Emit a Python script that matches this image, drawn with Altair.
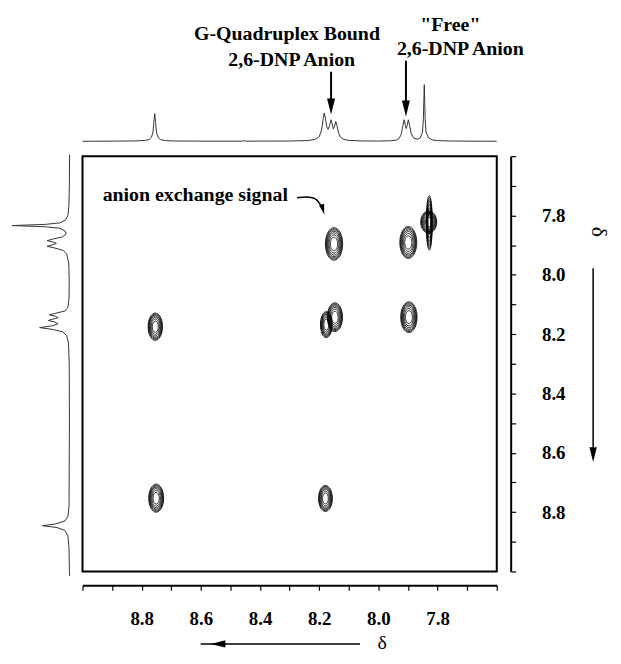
import altair as alt
import pandas as pd

# ---------------- data ----------------
# top 1D projection: chemical shift (ppm) and relative intensity
top_ppm = [9.000, 8.900, 8.820, 8.790, 8.775, 8.767, 8.762, 8.759, 8.756, 8.753, 8.750, 8.745,
           8.737, 8.720, 8.690, 8.600, 8.460, 8.455, 8.450, 8.300, 8.240, 8.215, 8.200, 8.192,
           8.186, 8.183, 8.179, 8.174, 8.170, 8.165, 8.160, 8.156, 8.152, 8.148, 8.144, 8.140,
           8.135, 8.128, 8.118, 8.100, 8.060, 8.000, 7.960, 7.940, 7.930, 7.923, 7.917, 7.913,
           7.909, 7.906, 7.902, 7.899, 7.895, 7.889, 7.880, 7.868, 7.858, 7.851, 7.848, 7.845,
           7.842, 7.839, 7.831, 7.818, 7.800, 7.760, 7.700, 7.600]
top_int = [0.000, 0.002, 0.006, 0.014, 0.030, 0.070, 0.160, 0.330, 0.490, 0.330, 0.160, 0.070,
           0.030, 0.012, 0.005, 0.002, 0.002, 0.012, 0.002, 0.004, 0.012, 0.030, 0.080, 0.200,
           0.420, 0.500, 0.400, 0.250, 0.210, 0.280, 0.380, 0.300, 0.215, 0.270, 0.350, 0.280,
           0.150, 0.070, 0.035, 0.016, 0.006, 0.004, 0.008, 0.020, 0.050, 0.120, 0.280, 0.380,
           0.280, 0.225, 0.290, 0.380, 0.290, 0.130, 0.055, 0.035, 0.060, 0.160, 0.400, 1.000,
           0.400, 0.160, 0.060, 0.025, 0.012, 0.005, 0.002, 0.000]

# left 1D projection (as drawn against the right-hand shift axis)
left_ppm = [7.595, 7.700, 7.770, 7.800, 7.815, 7.825, 7.830, 7.834, 7.838, 7.843, 7.852, 7.862,
            7.872, 7.880, 7.885, 7.890, 7.894, 7.899, 7.904, 7.909, 7.918, 7.930, 7.960, 8.020,
            8.080, 8.110, 8.122, 8.130, 8.135, 8.140, 8.145, 8.150, 8.154, 8.159, 8.165, 8.172,
            8.178, 8.184, 8.192, 8.205, 8.230, 8.300, 8.500, 8.780, 8.815, 8.830, 8.840, 8.846,
            8.852, 8.862, 8.880, 8.920, 9.000, 9.015]
left_int = [0.000, 0.004, 0.012, 0.030, 0.070, 0.170, 0.420, 1.000, 0.420, 0.170, 0.080, 0.060,
            0.120, 0.300, 0.390, 0.280, 0.230, 0.300, 0.390, 0.270, 0.110, 0.050, 0.015, 0.006,
            0.010, 0.030, 0.080, 0.250, 0.350, 0.240, 0.200, 0.300, 0.370, 0.260, 0.200, 0.300,
            0.520, 0.300, 0.120, 0.050, 0.020, 0.006, 0.003, 0.010, 0.030, 0.080, 0.250, 0.470,
            0.220, 0.080, 0.030, 0.010, 0.003, 0.000]

# 2D cross peaks: centre (F2, F1 ppm), vertical extent (ppm), outline kind
spot_x = [8.150, 7.899, 8.147, 8.176, 7.897, 8.754, 8.751, 8.179, 7.830, 7.828]
spot_y = [7.896, 7.891, 8.143, 8.168, 8.143, 8.175, 8.753, 8.754, 7.822, 7.825]
spot_h = [0.110, 0.108, 0.097, 0.088, 0.104, 0.092, 0.095, 0.088, 0.075, 0.184]
spot_kind = ["round", "round", "round", "lobe", "round", "round", "round", "round", "core", "tail"]
contour_levels = [1.0, 0.93, 0.86, 0.78, 0.68, 0.56, 0.42]

# axis ticks
tick_values = [9.0, 8.9, 8.8, 8.7, 8.6, 8.5, 8.4, 8.3, 8.2, 8.1, 8.0, 7.9, 7.8, 7.7, 7.6]
label_values = ["8.8", "8.6", "8.4", "8.2", "8.0", "7.8"]

# annotations above the top projection
annot_text = ["G-Quadruplex Bound", "2,6-DNP Anion", '"Free"', "2,6-DNP Anion"]
annot_ppm = [8.309, 8.293, 7.757, 7.723]
annot_level = [1.789, 1.333, 1.947, 1.526]
arrow_ppm = [8.160, 7.907]
arrow_from = [1.228, 1.421]
arrow_to = [0.474, 0.439]

# "anion exchange signal" label and its curved pointer
exch_text = "anion exchange signal"
exch_ppm, exch_shift = 8.932, 7.750
exch_line_x = [8.275, 8.242, 8.222, 8.208, 8.198, 8.190]
exch_line_y = [7.740, 7.736, 7.740, 7.746, 7.760, 7.775]
exch_tip = (8.183, 7.797)

# direction-of-delta arrows
dir_x_from, dir_x_to, delta_x = 8.062, 8.567, 7.987
dir_y_from, dir_y_to, delta_y = 7.978, 8.631, 7.855

# ---------------- layout ----------------
W, H = 417, 418
PPM_MIN, PPM_MAX = 7.6, 9.0
PX = H / (PPM_MAX - PPM_MIN)
TOP_GAP, TOP_UNIT = 15, 57
LEFT_GAP, LEFT_UNIT = 13, 58
SERIF = "Liberation Serif"
BOTTOM_ARROW_Y = 491
RIGHT_DELTA_X = 520

top_scale = alt.Scale(domain=[-(H + TOP_GAP) / TOP_UNIT, -TOP_GAP / TOP_UNIT], nice=False, zero=False)
left_scale = alt.Scale(domain=[-(W + LEFT_GAP) / LEFT_UNIT, -LEFT_GAP / LEFT_UNIT], reverse=True,
                       nice=False, zero=False)


def ppm_scale():
    return alt.Scale(domain=[PPM_MIN, PPM_MAX], reverse=True, nice=False, zero=False)


def xppm(field, axis=None):
    return alt.X(field, type="quantitative", scale=ppm_scale(), axis=axis)


def yppm(field, axis=None):
    return alt.Y(field, type="quantitative", scale=ppm_scale(), axis=axis)


label_expr = ("indexof([" + ",".join("'%s'" % v for v in label_values) +
              "], format(datum.value, '.1f')) >= 0 ? format(datum.value, '.1f') : ''")

axis_common = dict(values=tick_values, labelExpr=label_expr, title=None, grid=False,
                   domainColor="black", domainWidth=2, tickColor="black", tickWidth=1.2,
                   tickSize=5, labelFont=SERIF, labelFontWeight="bold", labelFontSize=19,
                   labelColor="black", labelFlush=False, labelOverlap=False)
x_axis = alt.Axis(orient="bottom", offset=14, labelPadding=19, **axis_common)
y_axis = alt.Axis(orient="right", offset=14, labelPadding=26, labelAlign="left", **axis_common)


def ellipse(a):
    k = 0.5523
    ak = a * k
    return ("M0,-1C{ak:.3f},-1 {a},-{k} {a},0C{a},{k} {ak:.3f},1 0,1"
            "C-{ak:.3f},1 -{a},{k} -{a},0C-{a},-{k} -{ak:.3f},-1 0,-1Z").format(a=a, k=k, ak=ak)


kinds = ["round", "lobe", "core", "tail"]
kind_paths = [ellipse(0.53), ellipse(0.45), ellipse(0.72), ellipse(0.11)]
HEAD = "M-0.5,-2L0.5,-2L0,0Z"

# ---------------- tables ----------------
rows = []
for sx, sy, sh, sk in zip(spot_x, spot_y, spot_h, spot_kind):
    for lv in contour_levels:
        rows.append({"x": sx, "y": sy, "sz": sh * lv, "kind": sk})
contour_df = pd.DataFrame(rows)
top_df = pd.DataFrame({"ppm": top_ppm, "inten": top_int})
left_df = pd.DataFrame({"ppm": left_ppm, "inten": left_int})
annot_df = pd.DataFrame({"ppm": annot_ppm, "lev": annot_level, "label": annot_text})
head_len = 12 / TOP_UNIT
arrow_df = pd.DataFrame({"ppm": arrow_ppm, "y0": arrow_from,
                         "y1": [t + head_len for t in arrow_to], "tip": arrow_to})
exch_df = pd.DataFrame({"x": exch_line_x, "y": exch_line_y, "i": list(range(len(exch_line_x)))})

# ---------------- layers ----------------
contours = alt.Chart(contour_df).mark_point(filled=False, color="black", strokeWidth=0.8, opacity=1).encode(
    x=xppm("x", x_axis),
    y=yppm("y", y_axis),
    size=alt.Size("sz:Q", scale=alt.Scale(type="pow", exponent=2, domain=[0, PPM_MAX - PPM_MIN],
                                          range=[0, H * H]), legend=None),
    shape=alt.Shape("kind:N", scale=alt.Scale(domain=kinds, range=kind_paths), legend=None),
)

top_line = alt.Chart(top_df).mark_line(color="#333333", strokeWidth=1).encode(
    x=xppm("ppm"), y=alt.Y("inten:Q", scale=top_scale, axis=None))

left_line = alt.Chart(left_df).mark_line(color="#333333", strokeWidth=1).encode(
    x=alt.X("inten:Q", scale=left_scale, axis=None), y=yppm("ppm"), order=alt.Order("ppm:Q"))

annots = alt.Chart(annot_df).mark_text(font=SERIF, fontWeight="bold", fontSize=20, color="black",
                                       align="center", baseline="alphabetic").encode(
    x=xppm("ppm"), y=alt.Y("lev:Q", scale=top_scale, axis=None), text="label:N")

arrows = alt.Chart(arrow_df).mark_rule(color="black", strokeWidth=2).encode(
    x=xppm("ppm"), y=alt.Y("y0:Q", scale=top_scale, axis=None), y2="y1:Q")
arrow_heads = alt.Chart(arrow_df).mark_point(shape=HEAD, filled=True, color="black", size=256,
                                             opacity=1).encode(
    x=xppm("ppm"), y=alt.Y("tip:Q", scale=top_scale, axis=None))

exch_label = alt.Chart(pd.DataFrame({"x": [exch_ppm], "y": [exch_shift], "t": [exch_text]})).mark_text(
    font=SERIF, fontWeight="bold", fontSize=20, color="black", align="left", baseline="alphabetic").encode(
    x=xppm("x"), y=yppm("y"), text="t:N")
exch_line = alt.Chart(exch_df).mark_line(color="black", strokeWidth=1.5, interpolate="basis").encode(
    x=xppm("x"), y=yppm("y"), order=alt.Order("i:Q"))
exch_head = alt.Chart(pd.DataFrame({"x": [exch_tip[0]], "y": [exch_tip[1]]})).mark_point(
    shape=HEAD, filled=True, color="black", size=110, angle=345, opacity=1).encode(
    x=xppm("x"), y=yppm("y"))

bottom_arrow = alt.Chart(pd.DataFrame({"a": [dir_x_from], "b": [dir_x_to + 10 / PX]})).mark_rule(
    color="black", strokeWidth=1.5).encode(x=xppm("a"), x2="b:Q", y=alt.value(BOTTOM_ARROW_Y))
bottom_head = alt.Chart(pd.DataFrame({"a": [dir_x_to]})).mark_point(
    shape=HEAD, filled=True, color="black", size=220, angle=90, opacity=1).encode(
    x=xppm("a"), y=alt.value(BOTTOM_ARROW_Y))
bottom_delta = alt.Chart(pd.DataFrame({"a": [delta_x]})).mark_text(
    text="δ", font=SERIF, fontSize=20, color="black", baseline="middle").encode(
    x=xppm("a"), y=alt.value(BOTTOM_ARROW_Y - 1))

right_arrow = alt.Chart(pd.DataFrame({"a": [dir_y_from], "b": [dir_y_to - 10 / PX]})).mark_rule(
    color="black", strokeWidth=1.5).encode(y=yppm("a"), y2="b:Q", x=alt.value(514))
right_head = alt.Chart(pd.DataFrame({"a": [dir_y_to]})).mark_point(
    shape=HEAD, filled=True, color="black", size=220, angle=0, opacity=1).encode(
    y=yppm("a"), x=alt.value(514))
right_delta = alt.Chart(pd.DataFrame({"a": [delta_y]})).mark_text(
    text="δ", font=SERIF, fontSize=22, color="black", baseline="middle", angle=90).encode(
    y=yppm("a"), x=alt.value(RIGHT_DELTA_X))

chart = alt.layer(
    contours, top_line, left_line, annots, arrows, arrow_heads,
    exch_label, exch_line, exch_head,
    bottom_arrow, bottom_head, bottom_delta,
    right_arrow, right_head, right_delta,
).resolve_scale(x="independent", y="independent").properties(
    width=W, height=H, padding={"left": 1, "top": 5, "right": 3, "bottom": 0},
    background="white",
).configure_view(stroke="black", strokeWidth=2)

chart.save("out.html", embed_options={"renderer": "svg", "actions": False})
